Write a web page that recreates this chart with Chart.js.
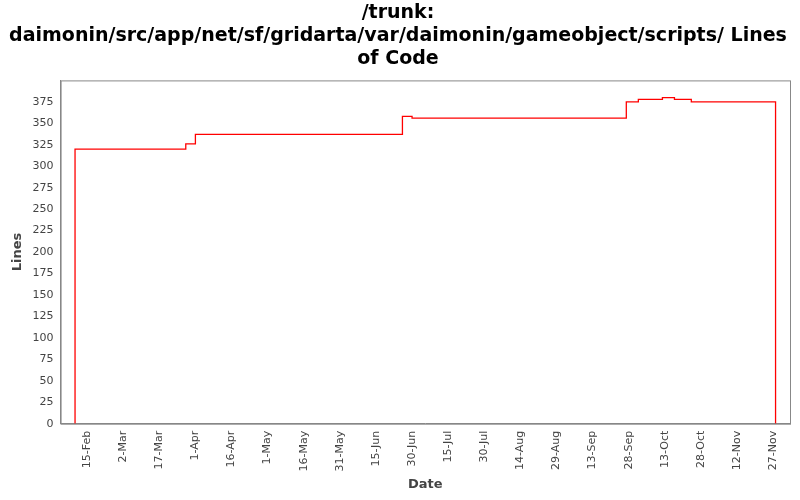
<!DOCTYPE html>
<html><head><meta charset="utf-8">
<script src="https://cdn.jsdelivr.net/npm/chart.js@4"></script>
<style>html,body{margin:0;background:#fff}#w{width:800px;height:500px}</style>
</head><body><div id="w"><canvas id="c"></canvas></div>
<script>
// x = days since 15-Feb
const stepDays = [-5, -5, 41, 45, 131, 135, 224, 229, 239, 244, 251, 286, 286];
const lineValues = [0, 320, 326, 337, 358, 356, 375, 378, 380, 378, 375, 375, 0];
const tickLabels = ['15-Feb','2-Mar','17-Mar','1-Apr','16-Apr','1-May','16-May','31-May','15-Jun','30-Jun','15-Jul','30-Jul','14-Aug','29-Aug','13-Sep','28-Sep','13-Oct','28-Oct','12-Nov','27-Nov'];
const titleLines = ['/trunk:', 'daimonin/src/app/net/sf/gridarta/var/daimonin/gameobject/scripts/ Lines', 'of Code'];
const border = {id:'b',afterDraw(ch){const a=ch.chartArea,x=ch.ctx;x.save();x.strokeStyle='#888';x.lineWidth=1;x.strokeRect(a.left+0.5,a.top+0.5,a.right-a.left,a.bottom-a.top);x.restore();}};
new Chart(document.getElementById('c'),{
 type:'line',
 data:{datasets:[{data:stepDays.map((d,i)=>({x:d,y:lineValues[i]})),borderColor:'#ff0000',borderWidth:1.3,pointRadius:0,stepped:'before',fill:false}]},
 options:{responsive:true,maintainAspectRatio:false,animation:false,
  layout:{padding:{left:6,right:10,top:0,bottom:4}},
  plugins:{legend:{display:false},tooltip:{enabled:false},
   title:{display:true,text:titleLines,color:'#000',font:{family:'DejaVu Sans',size:19,weight:'bold'},padding:{top:2,bottom:10},lineHeight:1.2}},
  scales:{
   x:{type:'linear',min:-11,max:292,grid:{display:false,drawTicks:true,tickLength:4,tickColor:'#888'},border:{color:'#888'},
    afterBuildTicks(s){s.ticks=tickLabels.map((_,i)=>({value:i*15}));},
    ticks:{autoSkip:false,maxRotation:90,minRotation:90,color:'#444',font:{family:'DejaVu Sans',size:11},callback:(v)=>tickLabels[Math.round(v/15)]},
    title:{display:true,text:'Date',color:'#444',font:{family:'DejaVu Sans',size:13,weight:'bold'},padding:{top:2}}},
   y:{min:0,max:400,grid:{display:false,tickLength:4,tickColor:'#888'},border:{color:'#888'},
    ticks:{stepSize:25,color:'#444',font:{family:'DejaVu Sans',size:11},callback:(v)=>v>=400?'':v},
    title:{display:true,text:'Lines',color:'#444',font:{family:'DejaVu Sans',size:13,weight:'bold'}}}
  }},
 plugins:[border]
});
</script></body></html>
